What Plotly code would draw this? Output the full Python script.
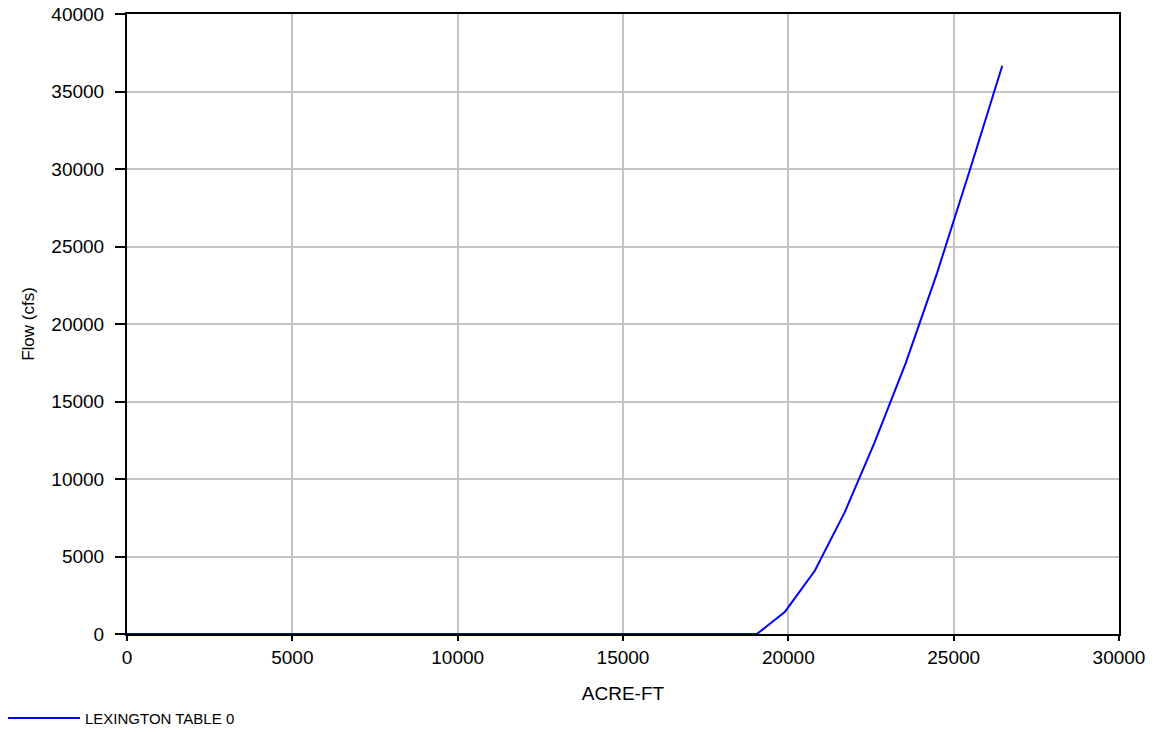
import plotly.graph_objects as go

# storage (acre-ft) vs flow (cfs)
storage = [0, 19050, 19900, 20800, 21700, 22600, 23550, 24500, 25500, 26470]
flow = [0, 0, 1440, 4080, 7830, 12320, 17480, 23300, 30000, 36660]
series_name = 'LEXINGTON TABLE 0'

font = dict(family='Liberation Sans, Arial', size=19, color='black')

fig = go.Figure()
fig.add_trace(go.Scatter(x=storage, y=flow, mode='lines', name=series_name,
                         line=dict(color='#0000ff', width=2), showlegend=False))

axis_style = dict(showline=True, linecolor='black', linewidth=2, mirror=True,
                  showgrid=True, gridcolor='#c4c4c4', gridwidth=2, zeroline=False,
                  ticks='outside', tickcolor='black', tickwidth=1.5, tickfont=font,
                  tickformat='d', automargin=False, ticklabeloverflow='allow')

fig.update_layout(
    width=1159, height=732,
    margin=dict(l=127, r=40, t=14, b=98),
    plot_bgcolor='white', paper_bgcolor='white',
    font=font,
    xaxis=dict(range=[0, 30000], dtick=5000, ticklen=5,
               title=dict(text='ACRE-FT', font=font, standoff=20), **axis_style),
    yaxis=dict(range=[0, 40000], dtick=5000, ticklen=10, ticklabelstandoff=7,
               title=dict(text='Flow (cfs)', font=dict(family='Liberation Sans, Arial', size=17, color='black'),
                          standoff=12), **axis_style),
)

# legend drawn below the plot, like the original
fig.add_shape(type='line', xref='paper', yref='paper', x0=-0.12, x1=-0.0474, y0=-0.1355, y1=-0.1355,
              line=dict(color='#0000ff', width=2))
fig.add_annotation(text=series_name, xref='paper', yref='paper', x=-0.0444, y=-0.1355,
                   xanchor='left', yanchor='middle', showarrow=False,
                   font=dict(family='Liberation Sans, Arial', size=15, color='black'))

# drop the default page margin so the figure sits at the window's corner
fig.write_html('out.html', config={'displayModeBar': False},
               post_script="document.body.style.margin='0';")
